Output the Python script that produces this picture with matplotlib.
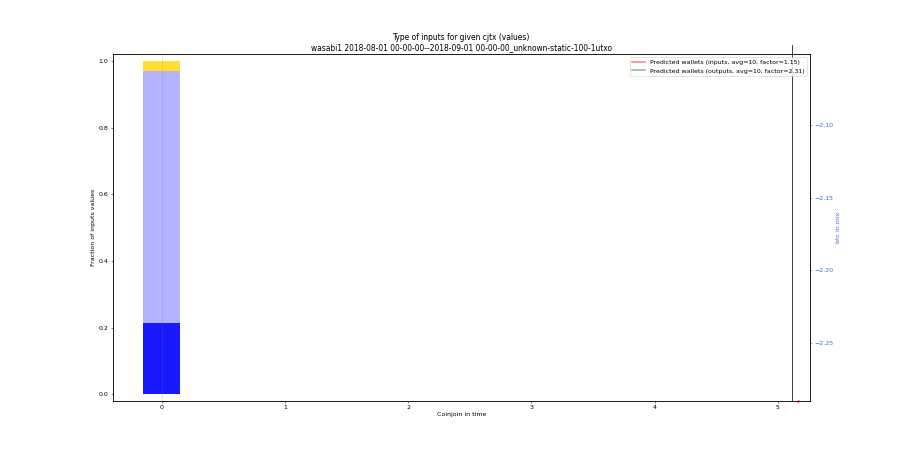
import matplotlib
matplotlib.use("Agg")
import matplotlib.pyplot as plt

# Data
coinjoins = [0]
fresh_values = [0.215]      # dark blue
remix_values = [0.755]      # light blue
other_values = [0.03]       # gold
x_ticks = [0, 1, 2, 3, 4, 5]
right_ticks = [-2.10, -2.15, -2.20, -2.25]
marker_x = [5.11]
red_point_x = [5.16]

fig = plt.figure(figsize=(20, 10), dpi=45)
ax = fig.add_subplot(111)

ax.bar(coinjoins, fresh_values, width=0.3, color='blue', alpha=0.9)
ax.bar(coinjoins, remix_values, width=0.3, bottom=fresh_values, color='blue', alpha=0.3)
bottom2 = [a + b for a, b in zip(fresh_values, remix_values)]
ax.bar(coinjoins, other_values, width=0.3, bottom=bottom2, color='gold', alpha=0.8)
ax.axvline(coinjoins[0], color='gray', alpha=0.2, linewidth=1.5)

ax.set_xlim(-0.4, 5.26)
ax.set_ylim(-0.018, 1.021)
ax.set_xticks(x_ticks)
ax.set_xlabel('Coinjoin in time')
ax.set_ylabel('Fraction of inputs values')
ax.set_title('Type of inputs for given cjtx (values)\nwasabi1 2018-08-01 00-00-00--2018-09-01 00-00-00_unknown-static-100-1utxo')

ax2 = ax.twinx()
ax2.set_ylim(-2.29, -2.051)
ax2.set_yticks(right_ticks)
ax2.tick_params(axis='y', colors='royalblue')
ax2.set_ylabel('btc in mix', color='royalblue')
ax2.axvline(marker_x[0], color='#444444', linewidth=1.6, ymax=1.025, clip_on=False)

ax3 = ax.twinx()
ax3.set_yticks([])
ax3.plot(red_point_x, [0], color='red', marker='s', markersize=3, alpha=0.5, linestyle='None', clip_on=False)
ax3.set_ylim(0, 1)
ax3.plot([], [], color='red', alpha=0.5, linewidth=2.5, label='Predicted wallets (inputs, avg=10, factor=1.15)')
ax3.plot([], [], color='green', alpha=0.5, linewidth=2.5, label='Predicted wallets (outputs, avg=10, factor=2.31)')
ax3.legend(loc='upper right')

fig.savefig('out.png', dpi=45)
